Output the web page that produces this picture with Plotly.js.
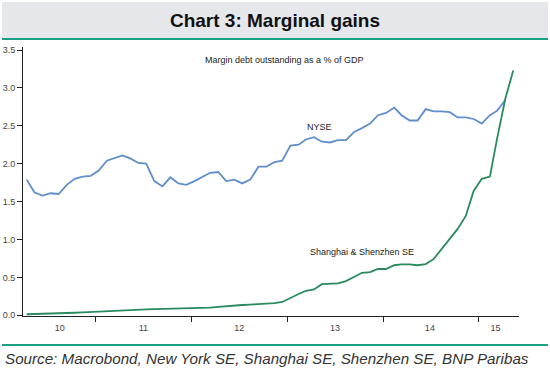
<!DOCTYPE html>
<html>
<head>
<meta charset="utf-8">
<script src="https://cdn.plot.ly/plotly-3.0.1.min.js"></script>
<style>
html,body{margin:0;padding:0;background:#fff;}
#chart{width:550px;height:379px;}
</style>
</head>
<body>
<div id="chart"></div>
<script>
// Monthly observations, April 2010 onwards
var startMonth = "2010-04";
var nyse = [1.79,1.62,1.58,1.61,1.60,1.72,1.80,1.83,1.84,1.91,
            2.04,2.07,2.11,2.07,2.01,2.00,1.77,1.70,1.82,1.74,
            1.72,1.77,1.83,1.88,1.89,1.77,1.79,1.74,1.79,1.96,
            1.96,2.02,2.04,2.24,2.25,2.32,2.35,2.29,2.28,2.31,
            2.31,2.42,2.47,2.53,2.64,2.67,2.74,2.64,2.57,2.57,
            2.72,2.69,2.69,2.68,2.61,2.61,2.59,2.53,2.64,2.70,
            2.84];
var china = [0.013,0.015,0.017,0.020,0.024,0.028,0.033,0.038,0.044,0.050,
             0.055,0.060,0.065,0.070,0.075,0.078,0.082,0.085,0.083,0.086,
             0.088,0.090,0.095,0.100,0.110,0.120,0.130,0.135,0.140,0.145,
             0.150,0.160,0.175,0.23,0.28,0.32,0.34,0.41,0.41,0.42,
             0.45,0.51,0.56,0.57,0.61,0.61,0.66,0.67,0.67,0.66,
             0.675,0.74,0.88,1.01,1.14,1.31,1.64,1.80,1.83,2.34,
             2.86,3.23];
var yearLabels = ["10","11","12","13","14","15"];
var yearLabelDates = ["2010-08-16","2011-07-01","2012-07-01","2013-07-01","2014-06-28","2015-03-05"];
var yearBoundaries = ["2011-01-01","2012-01-01","2013-01-01","2014-01-01","2015-01-01"];

function monthDates(start, n){
  var y = +start.slice(0,4), m = +start.slice(5,7);
  var out = [];
  for (var i=0;i<n;i++){
    var mm = m + i, yy = y + Math.floor((mm-1)/12), mo = ((mm-1)%12)+1;
    out.push(yy + "-" + (mo<10?"0":"") + mo + "-12");
  }
  return out;
}

var FONT = "Arial, 'Liberation Sans', sans-serif";
var L = 23, R = 519, T = 47, B = 316;
function px(x){ return (x-L)/(R-L); }
function py(y){ return (B-y)/(B-T); }

var traces = [
  {x: monthDates(startMonth, nyse.length), y: nyse, type:"scatter", mode:"lines",
   line:{color:"#5f8ecb", width:1.8}, name:"NYSE", hoverinfo:"x+y"},
  {x: monthDates(startMonth, china.length), y: china, type:"scatter", mode:"lines",
   line:{color:"#2a8a5e", width:1.8}, name:"Shanghai & Shenzhen SE", hoverinfo:"x+y"}
];

var layout = {
  width:550, height:379,
  margin:{l:L, r:550-R, t:T, b:379-B, pad:0},
  paper_bgcolor:"#ffffff", plot_bgcolor:"#ffffff",
  showlegend:false,
  font:{family:FONT, color:"#333"},
  title:{text:"<b>Chart 3: Marginal gains</b>", x:0.5, xref:"container", xanchor:"center",
         y:1-20/379, yref:"container", yanchor:"middle",
         font:{family:FONT, size:19, color:"#111"}},
  xaxis:{type:"date", range:["2010-03-29","2015-06-03"],
         showline:true, linecolor:"#222", linewidth:1, mirror:false,
         showgrid:false, zeroline:false,
         tickmode:"array", tickvals:yearLabelDates, ticktext:yearLabels,
         ticks:"", ticklabelstandoff:3,
         tickfont:{family:FONT, size:9, color:"#444"},
         minor:{tickmode:"array", tickvals:yearBoundaries, ticks:"outside", ticklen:5, tickcolor:"#222", tickwidth:1, showgrid:false},
         fixedrange:true},
  yaxis:{range:[-0.01,3.54], showline:true, linecolor:"#222", linewidth:1,
         showgrid:false, zeroline:false,
         tickmode:"linear", tick0:0, dtick:0.5, tickformat:".1f",
         ticks:"outside", ticklen:5, tickcolor:"#222",
         tickfont:{family:FONT, size:9, color:"#444"}, fixedrange:true},
  shapes:[
    {type:"rect", xref:"paper", yref:"paper", x0:px(2), x1:px(548), y0:py(38), y1:py(2),
     fillcolor:"#e5e7eb", line:{width:0}, layer:"below"},
    {type:"line", xref:"paper", yref:"paper", x0:px(2), x1:px(548), y0:py(39), y1:py(39),
     line:{color:"#1d9f86", width:2}},
    {type:"line", xref:"paper", yref:"paper", x0:px(2), x1:px(548), y0:py(345), y1:py(345),
     line:{color:"#1d9f86", width:2}}
  ],
  annotations:[
    {text:"Margin debt outstanding as a % of GDP", xref:"paper", yref:"paper",
     x:px(284), y:py(60), xanchor:"center", yanchor:"middle", showarrow:false,
     font:{family:FONT, size:9, color:"#222"}},
    {text:"NYSE", xref:"paper", yref:"paper", x:px(319), y:py(127),
     xanchor:"center", yanchor:"middle", showarrow:false, font:{family:FONT, size:9, color:"#222"}},
    {text:"Shanghai & Shenzhen SE", xref:"paper", yref:"paper", x:px(362), y:py(252),
     xanchor:"center", yanchor:"middle", showarrow:false, font:{family:FONT, size:9, color:"#222"}},
    {text:"<i>Source: Macrobond, New York SE, Shanghai SE, Shenzhen SE, BNP Paribas</i>",
     xref:"paper", yref:"paper", x:px(3), y:py(358), xanchor:"left", yanchor:"middle",
     showarrow:false, font:{family:FONT, size:15.2, color:"#333"}}
  ]
};

Plotly.newPlot("chart", traces, layout, {displayModeBar:false, staticPlot:true});
</script>
</body>
</html>
